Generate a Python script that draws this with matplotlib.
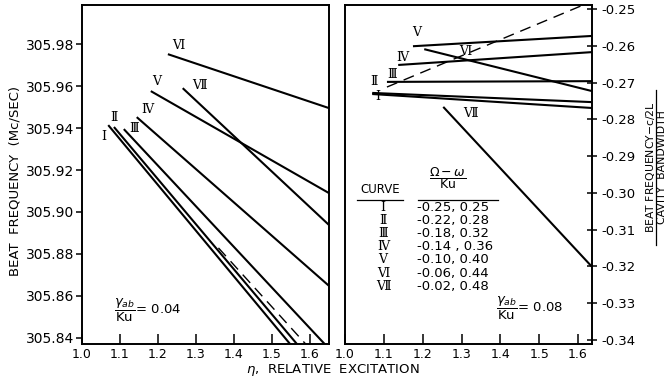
import matplotlib
matplotlib.use("Agg")
import matplotlib.pyplot as plt
from matplotlib.lines import Line2D

plt.rcParams['font.family'] = ['DejaVu Sans']
plt.rcParams['axes.unicode_minus'] = False
plt.rcParams['mathtext.fontset'] = 'dejavusans'

curves = ['Ⅰ', 'Ⅱ', 'Ⅲ', 'Ⅳ', 'Ⅴ', 'Ⅵ', 'Ⅶ']
detuning = ['-0.25, 0.25', '-0.22, 0.28', '-0.18, 0.32', '-0.14 , 0.36',
            '-0.10, 0.40', '-0.06, 0.44', '-0.02, 0.48']

# left panel (gamma_ab/Ku = 0.04): start / end points of each curve
left_x = [[1.069, 1.548], [1.084, 1.566], [1.110, 1.639], [1.144, 1.650],
          [1.181, 1.650], [1.226, 1.650], [1.265, 1.650]]
left_y = [[305.9414, 305.837], [305.9405, 305.837], [305.9395, 305.837],
          [305.9452, 305.8648], [305.9576, 305.909], [305.9752, 305.9495],
          [305.959, 305.8938]]
left_dash_x = [1.359, 1.589]
left_dash_y = [305.8829, 305.837]

# right panel (gamma_ab/Ku = 0.08)
right_x = [[1.070, 1.636], [1.070, 1.636], [1.108, 1.636], [1.137, 1.636],
           [1.175, 1.636], [1.204, 1.636], [1.253, 1.636]]
right_y = [[-0.2731, -0.2769], [-0.2728, -0.2753], [-0.2698, -0.2696],
           [-0.2652, -0.2617], [-0.2601, -0.2573], [-0.2609, -0.2723],
           [-0.2766, -0.3201]]
right_dash_x = [1.108, 1.613]
right_dash_y = [-0.2712, -0.2489]

left_ticks = [305.84, 305.86, 305.88, 305.90, 305.92, 305.94, 305.96, 305.98]
right_ticks = [-0.25, -0.26, -0.27, -0.28, -0.29, -0.30, -0.31, -0.32, -0.33, -0.34]
x_ticks = [1.0, 1.1, 1.2, 1.3, 1.4, 1.5, 1.6]

fig = plt.figure(figsize=(6.69, 3.83), dpi=100)
ax1 = fig.add_axes([0.1226, 0.1018, 0.3692, 0.885])
ax2 = fig.add_axes([0.5157, 0.1018, 0.3692, 0.885])

lw = 1.5
for ax in (ax1, ax2):
    for s in ax.spines.values():
        s.set_linewidth(1.4)
    ax.set_xticks(x_ticks)
    ax.set_xticklabels(['%.1f' % v for v in x_ticks], fontsize=9)
    ax.tick_params(axis='x', direction='in', length=7, width=1.1, pad=3)

for i in range(7):
    ax1.plot(left_x[i], left_y[i], color='black', lw=lw, solid_capstyle='butt')
    ax2.plot(right_x[i], right_y[i], color='black', lw=lw, solid_capstyle='butt')
ax1.plot(left_dash_x, left_dash_y, color='black', lw=1.0, ls=(0, (8, 5)))
ax2.plot(right_dash_x, right_dash_y, color='black', lw=1.0, ls=(0, (8, 5)))

ax1.set_xlim(1.0, 1.65)
ax1.set_ylim(305.8371, 305.9986)
ax1.set_yticks(left_ticks)
ax1.set_yticklabels(['%.2f' % v for v in left_ticks], fontsize=10)
ax1.tick_params(axis='y', direction='out', length=4, width=1.1, pad=1.5)
ax1.set_ylabel('BEAT  FREQUENCY  (Mc/SEC)', fontsize=9.5)
ax1.yaxis.set_label_coords(-0.245, 0.48)

ax2.set_xlim(1.0, 1.636)
ax2.set_ylim(-0.3411, -0.2489)
ax2.yaxis.tick_right()
ax2.set_yticks(right_ticks)
ax2.set_yticklabels(['%.2f' % v for v in right_ticks], fontsize=9.5)
ax2.tick_params(axis='y', direction='inout', length=7, width=1.1, pad=3)

fig.text(0.498, 0.034, r'$\eta$,  RELATIVE  EXCITATION', ha='center', va='center', fontsize=9.5)
fig.text(0.973, 0.564, 'BEAT FREQUENCY$-$c/2L', rotation=90, ha='center', va='center', fontsize=7.8)
fig.text(0.990, 0.564, 'CAVITY  BANDWIDTH', rotation=90, ha='center', va='center', fontsize=7.8)
fig.add_artist(Line2D([0.981, 0.981], [0.36, 0.765], color='black', lw=0.9))

num_font = dict(family='DejaVu Serif', fontsize=9, ha='center', va='center')
left_lab = [(1.058, 305.9362), (1.084, 305.9452), (1.137, 305.940), (1.173, 305.9486),
            (1.197, 305.962), (1.2545, 305.9795), (1.309, 305.9605)]
for i, (lx, ly) in enumerate(left_lab):
    ax1.text(lx, ly, curves[i], **num_font)
right_lab = [(1.085, -0.2739), (1.075, -0.2696), (1.121, -0.2677), (1.147, -0.2631),
             (1.1856, -0.2565), (1.309, -0.2614), (1.322, -0.2785)]
for i, (rx, ry) in enumerate(right_lab):
    ax2.text(rx, ry, curves[i], **num_font)

ax1.text(0.13, 0.10, r'$\dfrac{\gamma_{ab}}{\mathrm{Ku}}$= 0.04', transform=ax1.transAxes,
         ha='left', va='center', fontsize=9.5)
ax2.text(0.61, 0.106, r'$\dfrac{\gamma_{ab}}{\mathrm{Ku}}$= 0.08', transform=ax2.transAxes,
         ha='left', va='center', fontsize=9.5)

# curve table
ax2.text(0.142, 0.455, 'CURVE', transform=ax2.transAxes, ha='center', va='center', fontsize=8.5)
ax2.text(0.417, 0.49, r'$\dfrac{\Omega-\omega}{\mathrm{Ku}}$', transform=ax2.transAxes,
         ha='center', va='center', fontsize=9)
ax2.plot([0.049, 0.235], [0.425, 0.425], transform=ax2.transAxes, color='black', lw=0.9)
ax2.plot([0.296, 0.619], [0.425, 0.425], transform=ax2.transAxes, color='black', lw=0.9)
for i in range(7):
    ty = 0.404 - i * 0.039
    ax2.text(0.154, ty, curves[i], transform=ax2.transAxes, **num_font)
    ax2.text(0.292, ty, detuning[i], transform=ax2.transAxes, ha='left', va='center', fontsize=9.5)

fig.savefig('out.png', dpi=100)
